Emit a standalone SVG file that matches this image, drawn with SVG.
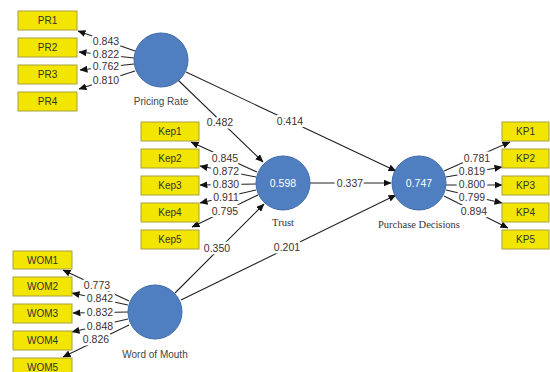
<svg xmlns="http://www.w3.org/2000/svg" width="550" height="372" viewBox="0 0 550 372">
<defs>
<marker id="ah" markerWidth="8" markerHeight="7" refX="7.5" refY="3.5" orient="auto" markerUnits="userSpaceOnUse">
<path d="M0,0 L8,3.5 L0,7 Z" fill="#111"/>
</marker>
<style>
.box{fill:#f2e500;stroke:#a8a040;stroke-width:1}
.lv{fill:#4f7fc0;stroke:#3f6aa8;stroke-width:1}
.bt{font-family:"Liberation Sans",Arial,sans-serif;font-size:10px;fill:#333;text-anchor:middle}
.num{font-family:"Liberation Sans",Arial,sans-serif;font-size:10.5px;fill:#3d2f2f;text-anchor:middle;stroke:#fff;stroke-width:5;paint-order:stroke;stroke-linejoin:round}
.in{font-family:"Liberation Sans",Arial,sans-serif;font-size:10.5px;fill:#fff;text-anchor:middle}
.ls{font-family:"Liberation Sans",Arial,sans-serif;font-size:10px;fill:#444;text-anchor:middle}
.lr{font-family:"Liberation Serif","Times New Roman",serif;font-size:10.5px;fill:#333;text-anchor:middle}
.c{stroke:#222;stroke-width:1.1;fill:none;marker-end:url(#ah)}
</style>
</defs>
<g id="connectors">
<line class="c" x1="135" y1="51" x2="78" y2="31"/>
<line class="c" x1="134" y1="58" x2="79" y2="52"/>
<line class="c" x1="134" y1="64" x2="80" y2="70"/>
<line class="c" x1="135" y1="71" x2="79" y2="89"/>
<line class="c" x1="257" y1="172" x2="191" y2="142"/>
<line class="c" x1="256" y1="177" x2="200" y2="166"/>
<line class="c" x1="256" y1="184" x2="200" y2="185"/>
<line class="c" x1="256" y1="190" x2="200" y2="203"/>
<line class="c" x1="258" y1="195" x2="192" y2="227"/>
<line class="c" x1="444" y1="171" x2="510" y2="142"/>
<line class="c" x1="446" y1="177" x2="502" y2="167"/>
<line class="c" x1="446" y1="185" x2="502" y2="185"/>
<line class="c" x1="446" y1="190" x2="502" y2="203"/>
<line class="c" x1="444" y1="196" x2="508" y2="228"/>
<line class="c" x1="129" y1="301" x2="63" y2="270"/>
<line class="c" x1="128" y1="305" x2="72" y2="293"/>
<line class="c" x1="128" y1="312" x2="73" y2="313"/>
<line class="c" x1="128" y1="319" x2="72" y2="332"/>
<line class="c" x1="129" y1="325" x2="63" y2="357"/>
<line class="c" x1="178" y1="80" x2="263" y2="162"/>
<line class="c" x1="186" y1="72" x2="396" y2="171"/>
<line class="c" x1="310" y1="183" x2="391" y2="183"/>
<line class="c" x1="175" y1="293" x2="264" y2="204"/>
<line class="c" x1="181" y1="300" x2="396" y2="195"/>
<text class="num" x="106" y="45">0.843</text>
<text class="num" x="106" y="58">0.822</text>
<text class="num" x="106" y="70">0.762</text>
<text class="num" x="106" y="84">0.810</text>
<text class="num" x="225" y="162">0.845</text>
<text class="num" x="226" y="175">0.872</text>
<text class="num" x="226" y="188">0.830</text>
<text class="num" x="226" y="201">0.911</text>
<text class="num" x="225" y="215">0.795</text>
<text class="num" x="477" y="162">0.781</text>
<text class="num" x="472" y="175">0.819</text>
<text class="num" x="472" y="188">0.800</text>
<text class="num" x="472" y="201">0.799</text>
<text class="num" x="474" y="215">0.894</text>
<text class="num" x="97" y="289">0.773</text>
<text class="num" x="100" y="302">0.842</text>
<text class="num" x="100" y="316">0.832</text>
<text class="num" x="100" y="330">0.848</text>
<text class="num" x="96" y="343">0.826</text>
<text class="num" x="220" y="126">0.482</text>
<text class="num" x="290" y="125">0.414</text>
<text class="num" x="350" y="187">0.337</text>
<text class="num" x="217" y="252">0.350</text>
<text class="num" x="287" y="251">0.201</text>
</g>
<g id="PR1"><rect class="box" x="18" y="11" width="59" height="19"/><text class="bt" x="47.5" y="24">PR1</text></g>
<g id="PR2"><rect class="box" x="18" y="38" width="59" height="19"/><text class="bt" x="47.5" y="51">PR2</text></g>
<g id="PR3"><rect class="box" x="18" y="65" width="59" height="19"/><text class="bt" x="47.5" y="78">PR3</text></g>
<g id="PR4"><rect class="box" x="18" y="92" width="59" height="19"/><text class="bt" x="47.5" y="105">PR4</text></g>
<g id="Kep1"><rect class="box" x="141" y="122" width="58" height="19"/><text class="bt" x="170" y="135">Kep1</text></g>
<g id="Kep2"><rect class="box" x="141" y="149" width="58" height="19"/><text class="bt" x="170" y="162">Kep2</text></g>
<g id="Kep3"><rect class="box" x="141" y="176" width="58" height="19"/><text class="bt" x="170" y="189">Kep3</text></g>
<g id="Kep4"><rect class="box" x="141" y="203" width="58" height="19"/><text class="bt" x="170" y="216">Kep4</text></g>
<g id="Kep5"><rect class="box" x="141" y="230" width="58" height="19"/><text class="bt" x="170" y="243">Kep5</text></g>
<g id="KP1"><rect class="box" x="502" y="122" width="47" height="19"/><text class="bt" x="525.5" y="135">KP1</text></g>
<g id="KP2"><rect class="box" x="502" y="149" width="47" height="19"/><text class="bt" x="525.5" y="162">KP2</text></g>
<g id="KP3"><rect class="box" x="502" y="176" width="47" height="19"/><text class="bt" x="525.5" y="189">KP3</text></g>
<g id="KP4"><rect class="box" x="502" y="203" width="47" height="19"/><text class="bt" x="525.5" y="216">KP4</text></g>
<g id="KP5"><rect class="box" x="502" y="230" width="47" height="19"/><text class="bt" x="525.5" y="243">KP5</text></g>
<g id="WOM1"><rect class="box" x="13" y="251" width="59" height="18"/><text class="bt" x="42.5" y="264">WOM1</text></g>
<g id="WOM2"><rect class="box" x="13" y="277" width="59" height="19"/><text class="bt" x="42.5" y="290">WOM2</text></g>
<g id="WOM3"><rect class="box" x="13" y="304" width="59" height="19"/><text class="bt" x="42.5" y="317">WOM3</text></g>
<g id="WOM4"><rect class="box" x="13" y="331" width="59" height="19"/><text class="bt" x="42.5" y="344">WOM4</text></g>
<g id="WOM5"><rect class="box" x="13" y="358" width="59" height="19"/><text class="bt" x="42.5" y="371">WOM5</text></g>
<g id="PricingRate"><circle class="lv" cx="161" cy="60" r="27"/><text class="ls" x="161" y="105">Pricing Rate</text></g>
<g id="Trust"><circle class="lv" cx="283" cy="183" r="27"/><text class="in" x="283" y="187">0.598</text><text class="lr" x="283" y="226">Trust</text></g>
<g id="PurchaseDecisions"><circle class="lv" cx="419" cy="183" r="27"/><text class="in" x="419" y="187">0.747</text><text class="lr" x="419" y="228">Purchase Decisions</text></g>
<g id="WordOfMouth"><circle class="lv" cx="155" cy="312" r="27"/><text class="ls" x="155" y="358">Word of Mouth</text></g>
</svg>
